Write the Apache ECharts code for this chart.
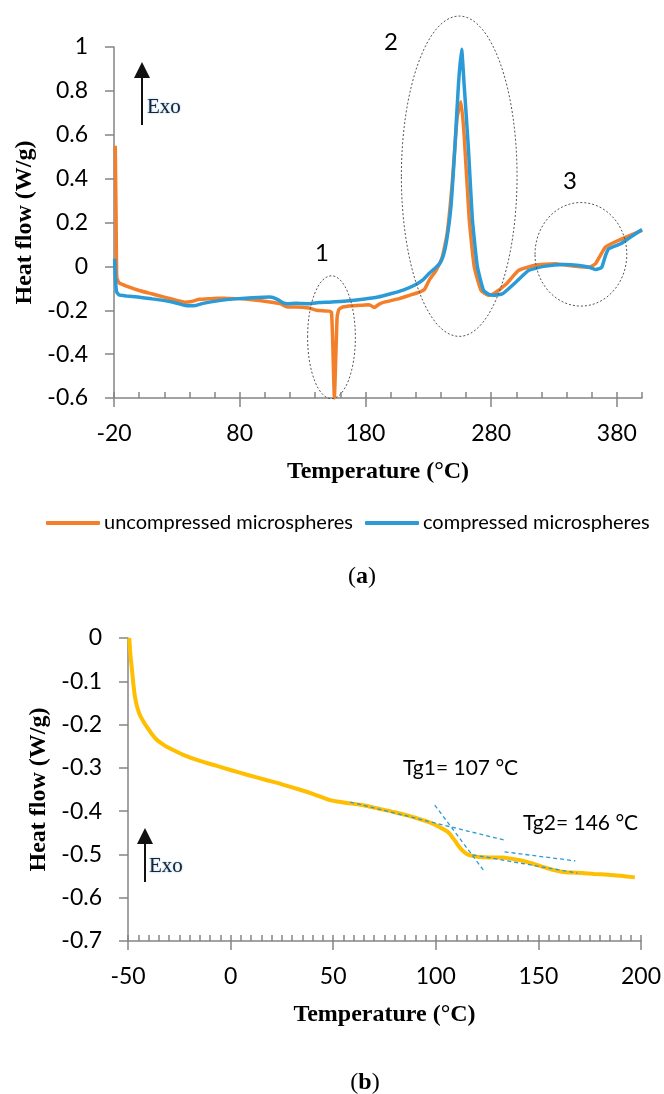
<!DOCTYPE html>
<html><head><meta charset="utf-8">
<script src="https://cdn.jsdelivr.net/npm/echarts@6/dist/echarts.min.js"></script>
<style>html,body{margin:0;padding:0;background:#fff}#c{width:664px;height:1094px}</style>
</head><body><div id="c"></div>
<script>
// ---------- DATA: chart (a) ----------
const seriesNamesA = ['uncompressed microspheres', 'compressed microspheres'];
const tempUncompressed = [-19, -18.3, -17.8, -16, -10, 0, 10, 20, 30, 36, 42, 48, 55, 62, 70, 79, 90, 104, 112, 118, 125, 135, 141, 151, 153, 154, 155.3, 156.5, 157.5, 159, 162, 170, 178, 183, 187, 191, 195, 207, 215, 223, 227, 231, 236, 241, 245, 249, 253, 256, 258.5, 262.5, 266.5, 272, 278, 282, 292, 302, 315, 331, 347, 358, 363, 371, 381, 390, 400];
const heatUncompressed = [0.55, 0.2, -0.05, -0.075, -0.09, -0.11, -0.125, -0.14, -0.155, -0.163, -0.16, -0.15, -0.148, -0.145, -0.146, -0.147, -0.152, -0.162, -0.17, -0.185, -0.185, -0.19, -0.2, -0.204, -0.21, -0.35, -0.6, -0.4, -0.23, -0.195, -0.185, -0.18, -0.177, -0.175, -0.187, -0.172, -0.163, -0.147, -0.132, -0.117, -0.105, -0.06, -0.02, 0.04, 0.15, 0.376, 0.68, 0.75, 0.6, 0.22, 0.0, -0.11, -0.132, -0.125, -0.08, -0.018, 0.005, 0.012, 0.0, -0.004, 0.012, 0.088, 0.118, 0.14, 0.164];
const tempCompressed = [-19.5, -18.8, -18, -16, -10, -1, 10, 19, 28, 36, 40, 45, 50, 56, 65, 79, 90, 104, 110, 114, 118, 125, 135, 143, 151, 165, 178, 190, 200, 210, 219, 226, 231, 236, 239, 242, 244.6, 248, 251, 254, 256.5, 258.5, 262, 265, 269, 274, 278, 282, 289, 300, 310, 322, 338, 350, 358, 363, 366, 368, 371, 373.5, 383, 390, 400];
const heatCompressed = [0.035, -0.06, -0.115, -0.13, -0.135, -0.14, -0.148, -0.155, -0.165, -0.177, -0.18, -0.178, -0.17, -0.163, -0.155, -0.147, -0.143, -0.14, -0.15, -0.165, -0.17, -0.168, -0.17, -0.165, -0.163, -0.158, -0.15, -0.14, -0.125, -0.108, -0.086, -0.06, -0.03, -0.005, 0.012, 0.05, 0.118, 0.27, 0.527, 0.83, 0.99, 0.83, 0.53, 0.22, 0.0, -0.11, -0.127, -0.132, -0.125, -0.07, -0.018, 0.0, 0.008, 0.004, -0.004, -0.014, -0.01, -0.004, 0.05, 0.08, 0.103, 0.13, 0.168];
const xTickLabelsA = [-20, 80, 180, 280, 380];
const yTickLabelsA = [-0.6, -0.4, -0.2, 0, 0.2, 0.4, 0.6, 0.8, 1];
// circled regions (data coords): centre temp, centre heat, half-width temp, half-height heat
const regionLabelsA = ['1', '2', '3'];
const regionCentreTemp = [153, 254.6, 351.4];
const regionCentreHeat = [-0.323, 0.411, 0.055];
const regionHalfTemp = [19, 46, 36.5];
const regionHalfHeat = [0.28, 0.73, 0.236];

// ---------- DATA: chart (b) ----------
const tempB = [-49.4, -48.8, -48.2, -47.4, -46.6, -45.5, -44.2, -42.5, -40.9, -38.5, -36, -33.5, -31.2, -27, -23.1, -15, -7, 0, 8, 17.3, 25, 33.5, 40, 48, 55, 64.2, 72, 80.4, 87, 93.3, 98, 101.5, 104.2, 106.3, 108, 109.6, 111.2, 112.8, 114.5, 116, 118.5, 120.9, 126, 132.2, 137, 141.9, 147, 151.6, 156.5, 161.4, 166, 171, 177, 184, 190, 197];
const heatB = [0, -0.04, -0.067, -0.105, -0.136, -0.16, -0.178, -0.193, -0.205, -0.221, -0.235, -0.244, -0.251, -0.261, -0.27, -0.284, -0.295, -0.305, -0.316, -0.328, -0.338, -0.35, -0.36, -0.374, -0.38, -0.386, -0.394, -0.403, -0.411, -0.42, -0.428, -0.436, -0.443, -0.45, -0.46, -0.47, -0.481, -0.49, -0.497, -0.501, -0.504, -0.506, -0.507, -0.507, -0.51, -0.514, -0.521, -0.528, -0.535, -0.54, -0.542, -0.543, -0.545, -0.547, -0.549, -0.553];
const xTickLabelsB = [-50, 0, 50, 100, 150, 200];
const yTickLabelsB = [-0.7, -0.6, -0.5, -0.4, -0.3, -0.2, -0.1, 0];
// tangent construction lines: [startTemp, startHeat, endTemp, endHeat]
const tangentStartTemp = [58.3, 99.5, 133.5, 118];
const tangentStartHeat = [-0.379, -0.386, -0.494, -0.501];
const tangentEndTemp = [133.5, 123.8, 168, 169];
const tangentEndHeat = [-0.467, -0.54, -0.515, -0.543];
const tgLabels = ['Tg1= 107 °C', 'Tg2= 146 °C'];

// ---------- CHART ----------
const chart = echarts.init(document.getElementById('c'), null, {renderer: 'canvas'});
const AX = '#858585';
const SANS = 'Lato';
const SERIF = 'Liberation Serif';
const zip = (xs, ys) => xs.map((x, i) => [x, ys[i]]);

function minorAxis(grid, min, max, step) {
  return {
    gridIndex: grid, type: 'value', position: 'bottom', min: min, max: max, interval: step,
    axisLine: {show: true, onZero: false, lineStyle: {color: AX, width: 1.5}},
    axisTick: {show: true, inside: true, length: 6, lineStyle: {color: AX, width: 1.5}},
    axisLabel: {show: false}, splitLine: {show: false}
  };
}
function majorAxis(grid, min, max, ticks) {
  return {
    gridIndex: grid, type: 'value', position: 'bottom', min: min, max: max,
    axisLine: {show: false, onZero: false},
    axisTick: {show: true, inside: false, length: 9, customValues: ticks, lineStyle: {color: AX, width: 1.5}},
    axisLabel: {show: true, customValues: ticks, margin: 24, fontFamily: SANS, fontSize: 23, color: '#000'},
    splitLine: {show: false},
    name: 'Temperature (°C)', nameLocation: 'middle', nameGap: 62,
    nameTextStyle: {fontFamily: SERIF, fontWeight: 'bold', fontSize: 24, color: '#000'}
  };
}
function yAxisDef(grid, min, max, step) {
  return {
    gridIndex: grid, type: 'value', min: min, max: max, interval: step,
    axisLine: {show: true, onZero: false, lineStyle: {color: AX, width: 1.5}},
    axisTick: {show: true, inside: false, length: 9, lineStyle: {color: AX, width: 1.5}},
    axisLabel: {margin: 26, fontFamily: SANS, fontSize: 23, color: '#000'},
    splitLine: {show: false},
    name: 'Heat flow (W/g)', nameLocation: 'middle', nameGap: 76, nameRotate: 90,
    nameTextStyle: {fontFamily: SERIF, fontWeight: 'bold', fontSize: 24, color: '#000'}
  };
}

const tangentSeries = tangentStartTemp.map((t, i) => ({
  type: 'line', xAxisIndex: 2, yAxisIndex: 1, symbol: 'none', silent: true,
  data: [[t, tangentStartHeat[i]], [tangentEndTemp[i], tangentEndHeat[i]]],
  lineStyle: {color: '#2B9BD8', width: 1.3, type: [4, 3]}, z: 5
}));

const option = {
  animation: false,
  backgroundColor: '#fff',
  grid: [
    {left: 114, top: 47, width: 528, height: 351},
    {left: 128, top: 638, width: 514, height: 303}
  ],
  xAxis: [
    minorAxis(0, -20, 400, 20),
    majorAxis(0, -20, 400, xTickLabelsA),
    minorAxis(1, -50, 200, 5),
    majorAxis(1, -50, 200, xTickLabelsB)
  ],
  yAxis: [
    yAxisDef(0, yTickLabelsA[0], yTickLabelsA[yTickLabelsA.length - 1], 0.2),
    yAxisDef(1, yTickLabelsB[0], yTickLabelsB[yTickLabelsB.length - 1], 0.1)
  ],
  legend: {
    data: seriesNamesA, left: 41, top: 508, itemWidth: 54, itemHeight: 4, itemGap: 12,
    icon: 'roundRect',
    textStyle: {fontFamily: SANS, fontSize: 20, color: '#000', padding: [0, 0, 0, -1]}
  },
  series: [
    {name: seriesNamesA[0], type: 'line', xAxisIndex: 0, yAxisIndex: 0, symbol: 'none',
     data: zip(tempUncompressed, heatUncompressed), color: '#F47F2B',
     lineStyle: {width: 3.5, color: '#F47F2B'}, smooth: 0.15, z: 3},
    {name: seriesNamesA[1], type: 'line', xAxisIndex: 0, yAxisIndex: 0, symbol: 'none',
     data: zip(tempCompressed, heatCompressed), color: '#2B9BD8',
     lineStyle: {width: 3.5, color: '#2B9BD8'}, smooth: 0.15, z: 4},
    {name: 'b', type: 'line', xAxisIndex: 2, yAxisIndex: 1, symbol: 'none',
     data: zip(tempB, heatB), color: '#FFBE00',
     lineStyle: {width: 4, color: '#FFBE00'}, smooth: 0.3, z: 3}
  ].concat(tangentSeries)
};
chart.setOption(option);

// ---------- annotations ----------
const g = [];
function arrow(x, yTop, yBot) {
  g.push({type: 'line', shape: {x1: x, y1: yBot, x2: x, y2: yTop + 12}, style: {stroke: '#111', lineWidth: 2}});
  g.push({type: 'polygon', shape: {points: [[x - 8, yTop + 16], [x + 8, yTop + 16], [x, yTop]]}, style: {fill: '#111'}});
}
function exo(x, y) {
  g.push({type: 'text', x: x, y: y, style: {text: 'Exo', font: '21px "Liberation Serif"', fill: '#1a2433',
    textVerticalAlign: 'middle', textShadowColor: 'rgba(60,150,220,0.7)', textShadowBlur: 2}});
}
arrow(142, 62, 125); exo(147, 107);
arrow(145, 828, 882); exo(149, 866);

regionLabelsA.forEach((lab, i) => {
  const c = chart.convertToPixel({xAxisIndex: 0, yAxisIndex: 0}, [regionCentreTemp[i], regionCentreHeat[i]]);
  const e = chart.convertToPixel({xAxisIndex: 0, yAxisIndex: 0}, [regionCentreTemp[i] + regionHalfTemp[i], regionCentreHeat[i] + regionHalfHeat[i]]);
  g.push({type: 'ellipse', shape: {cx: c[0], cy: c[1], rx: Math.abs(e[0] - c[0]), ry: Math.abs(e[1] - c[1])},
    style: {fill: 'none', stroke: '#555', lineWidth: 1, lineDash: [2, 2]}, z: 10});
});
const numPos = [[322, 253], [391, 42], [570, 181]];
regionLabelsA.forEach((lab, i) => {
  g.push({type: 'text', x: numPos[i][0], y: numPos[i][1], style: {text: lab, font: '24px Lato', fill: '#000', textAlign: 'center', textVerticalAlign: 'middle'}});
});
g.push({type: 'text', x: 403, y: 768, style: {text: tgLabels[0], font: '21px Lato', fill: '#000', textVerticalAlign: 'middle'}});
g.push({type: 'text', x: 523, y: 823, style: {text: tgLabels[1], font: '21px Lato', fill: '#000', textVerticalAlign: 'middle'}});
function panel(letter, x, y) {
  g.push({type: 'text', x: x, y: y, style: {
    text: '{p|(}{l|' + letter + '}{p|)}', textAlign: 'center', textVerticalAlign: 'middle',
    rich: {p: {fontFamily: SERIF, fontSize: 24, fill: '#000'}, l: {fontFamily: SERIF, fontSize: 24, fontWeight: 'bold', fill: '#000'}}
  }});
}
panel('a', 362, 577);
panel('b', 365, 1083);
chart.setOption({graphic: g});
</script>
</body></html>
